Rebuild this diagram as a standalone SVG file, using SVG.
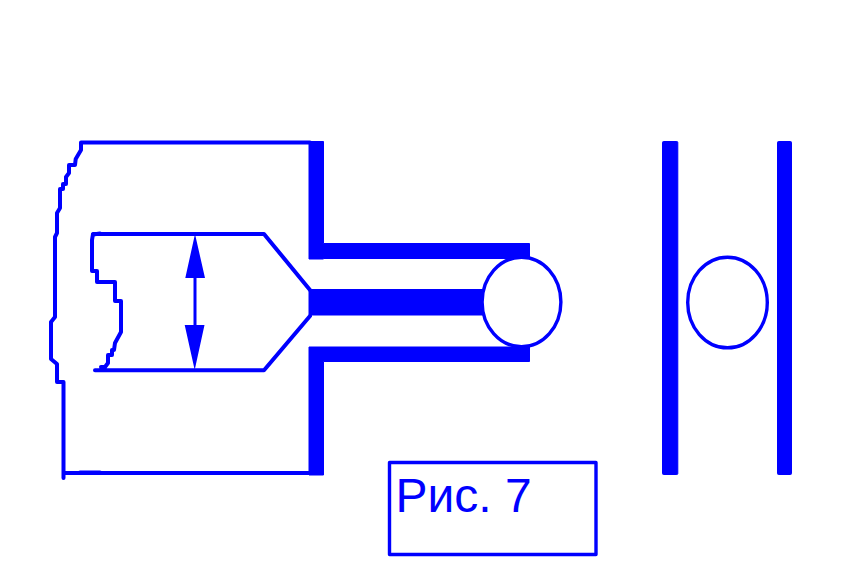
<svg xmlns="http://www.w3.org/2000/svg" width="866" height="577" viewBox="0 0 866 577">
<style>
.line{fill:none;stroke:#0000ff;stroke-width:4;stroke-linejoin:round;stroke-linecap:round}
.solid{fill:#0000ff;stroke:#0000ff;stroke-width:1;stroke-linejoin:round}
.disc{fill:#fff;stroke:#0000ff;stroke-width:3.400}
.label{font-family:"Liberation Sans",Arial,sans-serif;font-size:48px;fill:#0000ff}
</style>
<rect width="866" height="577" fill="#fff"/>
<g id="body">
<path class="line" d="M81 142.500H310M81 142.500V150L75.700 159L75 165H69V173L66 177V184H63V189H60V208L57 213V233L55 237V317L51 322V359L57 364V382H63.500V478M63.500 473H310M80 472.500H100"/>
<path class="solid" d="M309 141.500H323.500V243.500H529.500V258.500H323.500V259H309ZM309 347H529.500V361.500H323.500V475H309ZM309 289.500H490V315H309Z"/>
</g>
<g id="piston">
<path class="line" d="M310 290L264 234H93L92 240V271H97V282H115V301H121V332L115 343L114 350H112V355H108V363L105 367H101M95 370.300H264L310 316"/>
<path class="line" d="M93 234.500L100 233.500"/>
</g>
<g id="dimension-arrow">
<path d="M193.500 270H196.500V335H193.500Z" fill="#0000ff"/>
<path d="M195 234L205 278H185.300ZM194.700 370L184.700 325H204.500Z" fill="#0000ff"/>
</g>
<g id="ball-left"><ellipse class="disc" cx="521.500" cy="302" rx="39.400" ry="44.700"/></g>
<g id="plates">
<rect class="solid" x="662.500" y="141.500" width="15.300" height="333" rx="1"/>
<rect class="solid" x="777.500" y="141.500" width="14" height="333" rx="1"/>
</g>
<g id="ball-right"><ellipse class="disc" cx="727.500" cy="302.500" rx="39.800" ry="45.300"/></g>
<g id="caption">
<rect x="389.500" y="462.500" width="206.500" height="92" fill="#fff" stroke="#0000ff" stroke-width="3.400" stroke-linejoin="round"/>
<text class="label" x="395.500" y="511.500">Рис. 7</text>
</g>
</svg>
